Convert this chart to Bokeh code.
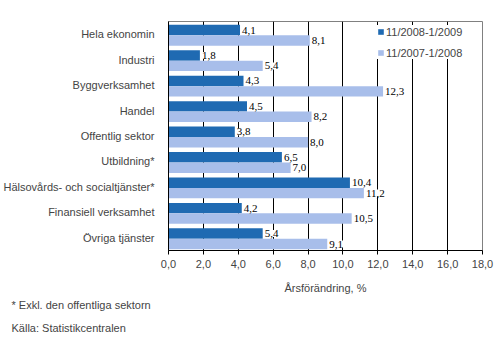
from bokeh.plotting import figure
from bokeh.models import (FactorRange, ColumnDataSource, LabelSet, Title, Legend, LegendItem,
                          FixedTicker, CustomJSTickFormatter, Range1d)
from bokeh.transform import dodge
from bokeh.embed import file_html
from bokeh.resources import INLINE

categories = ["Hela ekonomin", "Industri", "Byggverksamhet", "Handel", "Offentlig sektor",
              "Utbildning*", "Hälsovårds- och socialtjänster*", "Finansiell verksamhet",
              "Övriga tjänster"]
series_2009 = [4.1, 1.8, 4.3, 4.5, 3.8, 6.5, 10.4, 4.2, 5.4]
series_2008 = [8.1, 5.4, 12.3, 8.2, 8.0, 7.0, 11.2, 10.5, 9.1]
series_names = ["11/2008-1/2009", "11/2007-1/2008"]
x_ticks = [0, 2, 4, 6, 8, 10, 12, 14, 16, 18]
footnote = "* Exkl. den offentliga sektorn"
source_note = "Källa: Statistikcentralen"

DARK = "#1F6AB2"
LIGHT = "#A8BEEA"
FONT = "Liberation Sans"

def fmt(v):
    return f"{v:.1f}".replace(".", ",")

src = ColumnDataSource(dict(
    cat=categories,
    a=series_2009,
    b=series_2008,
    la=[fmt(v) for v in series_2009],
    lb=[fmt(v) for v in series_2008],
))

p = figure(frame_width=314, frame_height=229, output_backend="svg", toolbar_location=None,
           y_range=FactorRange(factors=list(reversed(categories)), range_padding=0),
           x_range=Range1d(0, 18),
           min_border_left=165, min_border_right=18, min_border_top=21, min_border_bottom=0)

p.outline_line_color = "#808080"
p.outline_line_width = 1
p.background_fill_color = "white"
p.border_fill_color = "white"

rA = p.hbar(y=dodge("cat", 0.165, range=p.y_range), right="a", left=0, height=0.41,
            source=src, color=DARK, line_color=None)
rB = p.hbar(y=dodge("cat", -0.245, range=p.y_range), right="b", left=0, height=0.41,
            source=src, color=LIGHT, line_color=None)

for field, lab, off in (("a", "la", 0.165), ("b", "lb", -0.245)):
    ls = LabelSet(x=field, y=dodge("cat", off, range=p.y_range), text=lab, source=src,
                  x_offset=2, text_baseline="middle", text_align="left",
                  text_font=FONT, text_font_size="11px", text_color="black",
                  background_fill_color="white", level="glyph")
    p.add_layout(ls)

# axes
p.xaxis.ticker = FixedTicker(ticks=x_ticks)
p.xaxis.formatter = CustomJSTickFormatter(code="return tick.toFixed(1).replace('.', ',');")
p.xaxis.axis_label = "Årsförändring, %"
p.xaxis.axis_label_text_font = FONT
p.xaxis.axis_label_text_font_size = "11px"
p.xaxis.axis_label_text_font_style = "normal"
p.xaxis.axis_label_standoff = 11
p.xaxis.major_label_text_font = FONT
p.xaxis.major_label_text_font_size = "11px"
p.xaxis.major_label_standoff = 5
p.xaxis.major_tick_out = 4
p.xaxis.major_tick_in = 0
p.xaxis.minor_tick_line_color = None
p.xaxis.axis_line_color = "black"
p.xaxis.major_tick_line_color = "black"

p.yaxis.major_tick_line_color = None
p.yaxis.minor_tick_line_color = None
p.yaxis.major_label_text_font = FONT
p.yaxis.major_label_text_font_size = "11px"
p.yaxis.major_label_standoff = 8
p.yaxis.axis_line_color = "black"

p.xgrid.grid_line_color = "black"
p.xgrid.grid_line_width = 1
p.ygrid.grid_line_color = None

legend = Legend(items=[LegendItem(label=series_names[0], renderers=[rA]),
                       LegendItem(label=series_names[1], renderers=[rB])],
                location=(209, 191), orientation="vertical")
legend.glyph_width = 7
legend.glyph_height = 7
legend.label_height = 13
legend.label_width = 60
legend.spacing = 8
legend.padding = 2
legend.margin = 0
legend.label_standoff = 2
legend.label_text_font = FONT
legend.label_text_font_size = "11px"
legend.border_line_color = None
legend.background_fill_color = "white"
legend.background_fill_alpha = 1
p.add_layout(legend, "center")

for txt, stand in ((footnote, 0), (source_note, 19)):
    t = Title(text=txt, align="left", offset=-157, text_font=FONT, text_font_size="11px",
              text_font_style="normal", standoff=stand)
    p.add_layout(t, "below")

open("out.html", "w").write(file_html(p, INLINE))
